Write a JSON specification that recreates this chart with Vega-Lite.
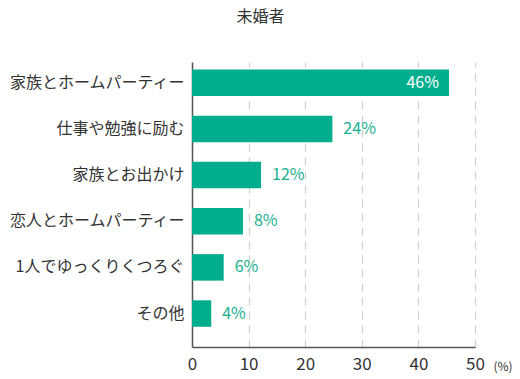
{
  "$schema": "https://vega.github.io/schema/vega-lite/v6.json",
  "autosize": "none",
  "width": 283,
  "height": 285,
  "padding": {"left": 192, "top": 62, "right": 45, "bottom": 32},
  "background": "white",
  "title": {
    "text": "未婚者",
    "font": "Noto Sans CJK JP",
    "fontSize": 16,
    "fontWeight": "normal",
    "color": "#333333",
    "anchor": "middle",
    "frame": "group",
    "dx": -73,
    "offset": 37
  },
  "data": {
    "values": [
      {"item": "家族とホームパーティー", "value": 45.4, "label": "46%"},
      {"item": "仕事や勉強に励む", "value": 24.8, "label": "24%"},
      {"item": "家族とお出かけ", "value": 12.2, "label": "12%"},
      {"item": "恋人とホームパーティー", "value": 9.0, "label": "8%"},
      {"item": "1人でゆっくりくつろぐ", "value": 5.6, "label": "6%"},
      {"item": "その他", "value": 3.4, "label": "4%"}
    ]
  },
  "encoding": {
    "y": {
      "field": "item",
      "type": "nominal",
      "sort": null,
      "scale": {"paddingInner": 0.426, "paddingOuter": 0.3, "align": 0.27},
      "axis": {
        "title": null,
        "ticks": false,
        "domainColor": "#555555",
        "domainWidth": 1.5,
        "labelFont": "Noto Sans CJK JP",
        "labelFontSize": 16,
        "labelColor": "#333333",
        "labelPadding": 8,
        "labelLimit": 300
      }
    },
    "x": {
      "field": "value",
      "type": "quantitative",
      "scale": {"domain": [0, 50], "nice": false},
      "axis": {
        "values": [0, 10, 20, 30, 40, 50],
        "ticks": false,
        "grid": true,
        "gridColor": "#d0d0d0",
        "gridDash": [8, 6],
        "gridWidth": 1.2,
        "domainColor": "#555555",
        "domainWidth": 1.5,
        "labelFont": "Noto Sans CJK JP",
        "labelFontSize": 17,
        "labelColor": "#333333",
        "labelPadding": 9,
        "labelFlush": false,
        "labelOverlap": false,
        "title": "(%)",
        "titleFont": "Noto Sans CJK JP",
        "titleFontSize": 12,
        "titleFontWeight": "normal",
        "titleColor": "#333333",
        "titleX": 301,
        "titleY": 19,
        "titleAlign": "left",
        "titleBaseline": "middle"
      }
    }
  },
  "layer": [
    {"mark": {"type": "bar", "color": "#00ae8d"}},
    {
      "transform": [{"filter": "datum.value > 30"}],
      "mark": {"type": "text", "align": "right", "dx": -10, "baseline": "middle", "font": "Noto Sans CJK JP", "fontSize": 16, "color": "white"},
      "encoding": {"text": {"field": "label"}}
    },
    {
      "transform": [{"filter": "datum.value <= 30"}],
      "mark": {"type": "text", "align": "left", "dx": 11, "baseline": "middle", "font": "Noto Sans CJK JP", "fontSize": 16, "color": "#17b08f"},
      "encoding": {"text": {"field": "label"}}
    }
  ],
  "config": {"view": {"stroke": null}}
}
